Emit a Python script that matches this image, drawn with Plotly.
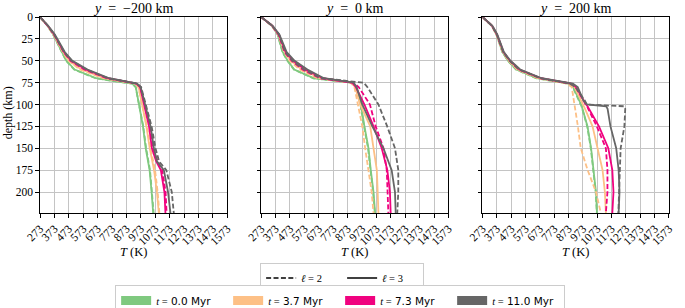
import plotly.graph_objects as go

# ---------------- data ----------------
T_TICKS = [273, 373, 473, 573, 673, 773, 873, 973, 1073, 1173, 1273, 1373, 1473, 1573]
DEPTH_TICKS = [0, 25, 50, 75, 100, 125, 150, 175, 200]
TIME_LABELS = ["0.0", "3.7", "7.3", "11.0"]
COLORS = ["#7fc97f", "#fdc086", "#f0027f", "#666666"]
PANEL_Y = ["−200", "0", "200"]

# panel 1 : y = -200 km
DEPTH_P1 = [0, 10, 20, 30, 40, 50, 60, 70, 74, 76, 80, 100, 125, 150, 165, 175, 200, 224]
P1_L3_T00 = [273, 325, 365, 395, 429, 456, 514, 663, 823, 913, 938, 961, 988, 1007, 1022, 1034, 1048, 1059]
P1_L2_T00 = [273, 325, 364, 394, 427, 454, 510, 658, 820, 912, 937, 960, 990, 1010, 1025, 1037, 1050, 1062]
P1_L3_T37 = [273, 326, 368, 400, 435, 475, 560, 720, 860, 935, 958, 983, 1012, 1035, 1052, 1065, 1085, 1098]
P1_L2_T37 = [273, 326, 367, 398, 432, 470, 550, 712, 855, 932, 956, 982, 1015, 1040, 1058, 1072, 1090, 1102]
P1_L3_T73 = [273, 327, 372, 405, 440, 490, 590, 745, 872, 942, 968, 995, 1030, 1050, 1080, 1112, 1137, 1144]
P1_L2_T73 = [273, 327, 370, 403, 437, 485, 580, 738, 868, 940, 970, 1000, 1036, 1058, 1090, 1122, 1145, 1152]
P1_L3_T110 = [273, 330, 376, 410, 445, 498, 603, 754, 878, 947, 972, 1002, 1041, 1064, 1085, 1133, 1162, 1179]
P1_L2_T110 = [273, 328, 372, 405, 440, 492, 595, 745, 872, 945, 975, 1008, 1048, 1075, 1100, 1150, 1188, 1202]

# panel 2 : y = 0 km
DEPTH_P2 = [0, 10, 20, 30, 40, 50, 60, 70, 73, 75, 80, 100, 125, 150, 175, 200, 224]
P2_L3_T00 = [273, 347, 388, 405, 422, 457, 503, 640, 790, 900, 935, 965, 990, 1018, 1034, 1053, 1064]
P2_L2_T00 = [273, 347, 387, 404, 420, 455, 500, 635, 785, 898, 932, 962, 987, 1015, 1032, 1050, 1062]
P2_L3_T37 = [273, 349, 393, 413, 437, 478, 554, 680, 810, 900, 925, 960, 1030, 1053, 1076, 1082, 1087]
P2_L2_T37 = [273, 348, 390, 410, 432, 470, 540, 665, 800, 895, 920, 945, 975, 995, 1018, 1040, 1053]
P2_L3_T73 = [273, 350, 396, 418, 443, 495, 577, 700, 830, 905, 930, 990, 1053, 1110, 1149, 1167, 1172]
P2_L2_T73 = [273, 349, 393, 413, 435, 485, 560, 680, 815, 910, 950, 1028, 1068, 1122, 1145, 1149, 1156]
P2_L3_T110 = [273, 351, 399, 422, 450, 505, 594, 709, 850, 915, 935, 975, 1045, 1122, 1179, 1202, 1207]
P2_L2_T110 = [273, 350, 397, 418, 440, 490, 570, 690, 850, 985, 1010, 1087, 1148, 1202, 1225, 1225, 1218]

# panel 3 : y = 200 km
DEPTH_P3 = [0, 10, 20, 30, 40, 50, 60, 70, 74, 76, 80, 95, 100, 102, 105, 125, 150, 175, 200, 224]
P3_L3_T00 = [273, 338, 370, 392, 412, 452, 510, 650, 795, 870, 905, 950, 960, 965, 970, 1005, 1030, 1049, 1064, 1071]
P3_L2_T00 = [273, 338, 370, 392, 412, 450, 506, 645, 790, 866, 902, 948, 958, 963, 968, 1003, 1028, 1047, 1062, 1070]
P3_L3_T37 = [273, 339, 372, 395, 417, 460, 522, 670, 805, 880, 915, 960, 975, 980, 988, 1040, 1075, 1110, 1126, 1133]
P3_L2_T37 = [273, 339, 371, 394, 415, 456, 515, 660, 800, 860, 895, 910, 913, 915, 918, 938, 958, 1006, 1064, 1098]
P3_L3_T73 = [273, 340, 374, 397, 420, 465, 530, 680, 815, 890, 925, 975, 995, 1005, 1015, 1085, 1150, 1178, 1186, 1178]
P3_L2_T73 = [273, 340, 373, 396, 418, 462, 526, 676, 812, 886, 922, 972, 993, 1003, 1010, 1070, 1133, 1144, 1144, 1133]
P3_L3_T110 = [273, 342, 376, 399, 422, 468, 536, 686, 823, 903, 937, 975, 1000, 1135, 1145, 1165, 1205, 1222, 1228, 1222]
P3_L2_T110 = [273, 340, 373, 396, 418, 462, 528, 678, 815, 880, 920, 985, 1000, 1259, 1268, 1262, 1236, 1230, 1228, 1220]

PANELS = [
    (DEPTH_P1, [(P1_L2_T00, P1_L3_T00), (P1_L2_T37, P1_L3_T37), (P1_L2_T73, P1_L3_T73), (P1_L2_T110, P1_L3_T110)]),
    (DEPTH_P2, [(P2_L2_T00, P2_L3_T00), (P2_L2_T37, P2_L3_T37), (P2_L2_T73, P2_L3_T73), (P2_L2_T110, P2_L3_T110)]),
    (DEPTH_P3, [(P3_L2_T00, P3_L3_T00), (P3_L2_T37, P3_L3_T37), (P3_L2_T73, P3_L3_T73), (P3_L2_T110, P3_L3_T110)]),
]

# ---------------- figure ----------------
SERIF = "Liberation Serif, DejaVu Serif, serif"
SANS = "DejaVu Sans, sans-serif"
W, H = 685, 308
ML, MR, MT, MB = 40, 10, 17, 95
PW = W - ML - MR
PH = H - MT - MB
DOMAINS = [[0, 189 / PW], [223.3 / PW, 412.3 / PW], [446.7 / PW, 1.0]]
DASH = "5px,2.4px"
LW = 1.8


def py(px):
    """figure pixel row -> paper y"""
    return (MT + PH - px) / PH


fig = go.Figure()
for i, (depth, series) in enumerate(PANELS):
    xa = "x" if i == 0 else f"x{i+1}"
    ya = "y" if i == 0 else f"y{i+1}"
    for c, (l2, l3) in enumerate(series):
        fig.add_trace(go.Scatter(x=l2, y=depth, mode="lines", xaxis=xa, yaxis=ya,
                                 line=dict(color=COLORS[c], width=LW, dash=DASH),
                                 showlegend=False, hoverinfo="skip"))
        fig.add_trace(go.Scatter(x=l3, y=depth, mode="lines", xaxis=xa, yaxis=ya,
                                 line=dict(color=COLORS[c], width=LW),
                                 showlegend=False, hoverinfo="skip"))

# legend 1 : line styles
for name, dash in [("<i>ℓ</i> = 2", DASH), ("<i>ℓ</i> = 3", "solid")]:
    fig.add_trace(go.Scatter(x=[None], y=[None], mode="lines", name=name,
                             line=dict(color="black", width=1.6, dash=dash),
                             legend="legend"))
# legend 2 : times
for c, lab in enumerate(TIME_LABELS):
    fig.add_trace(go.Scatter(x=[None], y=[None], mode="lines",
                             name=f"<span style='font-family:Liberation Serif'><i>t</i> =</span> {lab} Myr",
                             line=dict(color=COLORS[c], width=9),
                             legend="legend2"))

axis_common = dict(showline=True, linecolor="black", linewidth=1.2, mirror=True,
                   showgrid=True, gridcolor="#c4c4c4", gridwidth=1,
                   ticks="outside", ticklen=3.5, tickcolor="black", tickwidth=1,
                   zeroline=False, tickfont=dict(family=SERIF, size=11.5, color="black"))

layout = dict(width=W, height=H, margin=dict(l=ML, r=MR, t=MT, b=MB),
              plot_bgcolor="white", paper_bgcolor="white",
              font=dict(family=SERIF, size=11, color="black"))
for i in range(3):
    sfx = "" if i == 0 else str(i + 1)
    layout["xaxis" + sfx] = dict(axis_common, domain=DOMAINS[i], range=[273, 1573],
                                 tickvals=T_TICKS, ticktext=[str(v) for v in T_TICKS],
                                 tickangle=-45, anchor="y" + sfx)
    layout["yaxis" + sfx] = dict(axis_common, domain=[0, 1], range=[224, 0],
                                 tickvals=DEPTH_TICKS, showticklabels=(i == 0),
                                 anchor="x" + sfx)
fig.update_layout(**layout)

ann = []
for i in range(3):
    xc = (DOMAINS[i][0] + DOMAINS[i][1]) / 2
    ann.append(dict(text=f"<i>y</i>  =  {PANEL_Y[i]} km", x=xc, y=1, xref="paper", yref="paper",
                    xanchor="center", yanchor="bottom", yshift=-1, showarrow=False,
                    font=dict(family=SERIF, size=14)))
    ann.append(dict(text="<i>T</i> (K)", x=xc, y=py(252),
                    xref="paper", yref="paper", xanchor="center", yanchor="middle",
                    showarrow=False, font=dict(family=SERIF, size=12.5)))
ann.append(dict(text="depth (km)", x=(8 - ML) / PW, y=0.51, xref="paper", yref="paper",
                xanchor="center", yanchor="middle", textangle=-90, showarrow=False,
                font=dict(family=SERIF, size=12)))
fig.update_layout(annotations=ann)

fig.update_layout(
    legend=dict(orientation="h", x=(345 - ML) / PW, xanchor="center", xref="paper",
                y=1 - 262.5 / H, yanchor="top", yref="container",
                bordercolor="#cccccc", borderwidth=1, bgcolor="white",
                font=dict(family=SERIF, size=10.5), entrywidth=36, entrywidthmode="pixels",
                tracegroupgap=0),
    legend2=dict(orientation="h", x=(343 - ML) / PW, xanchor="center", xref="paper",
                 y=1 - 285 / H, yanchor="top", yref="container",
                 bordercolor="#cccccc", borderwidth=1, bgcolor="white",
                 font=dict(family=SANS, size=10.5), entrywidth=67, entrywidthmode="pixels",
                 tracegroupgap=0),
)

fig.write_html("out.html", config={"displayModeBar": False},
               post_script="document.body.style.margin='0';")
